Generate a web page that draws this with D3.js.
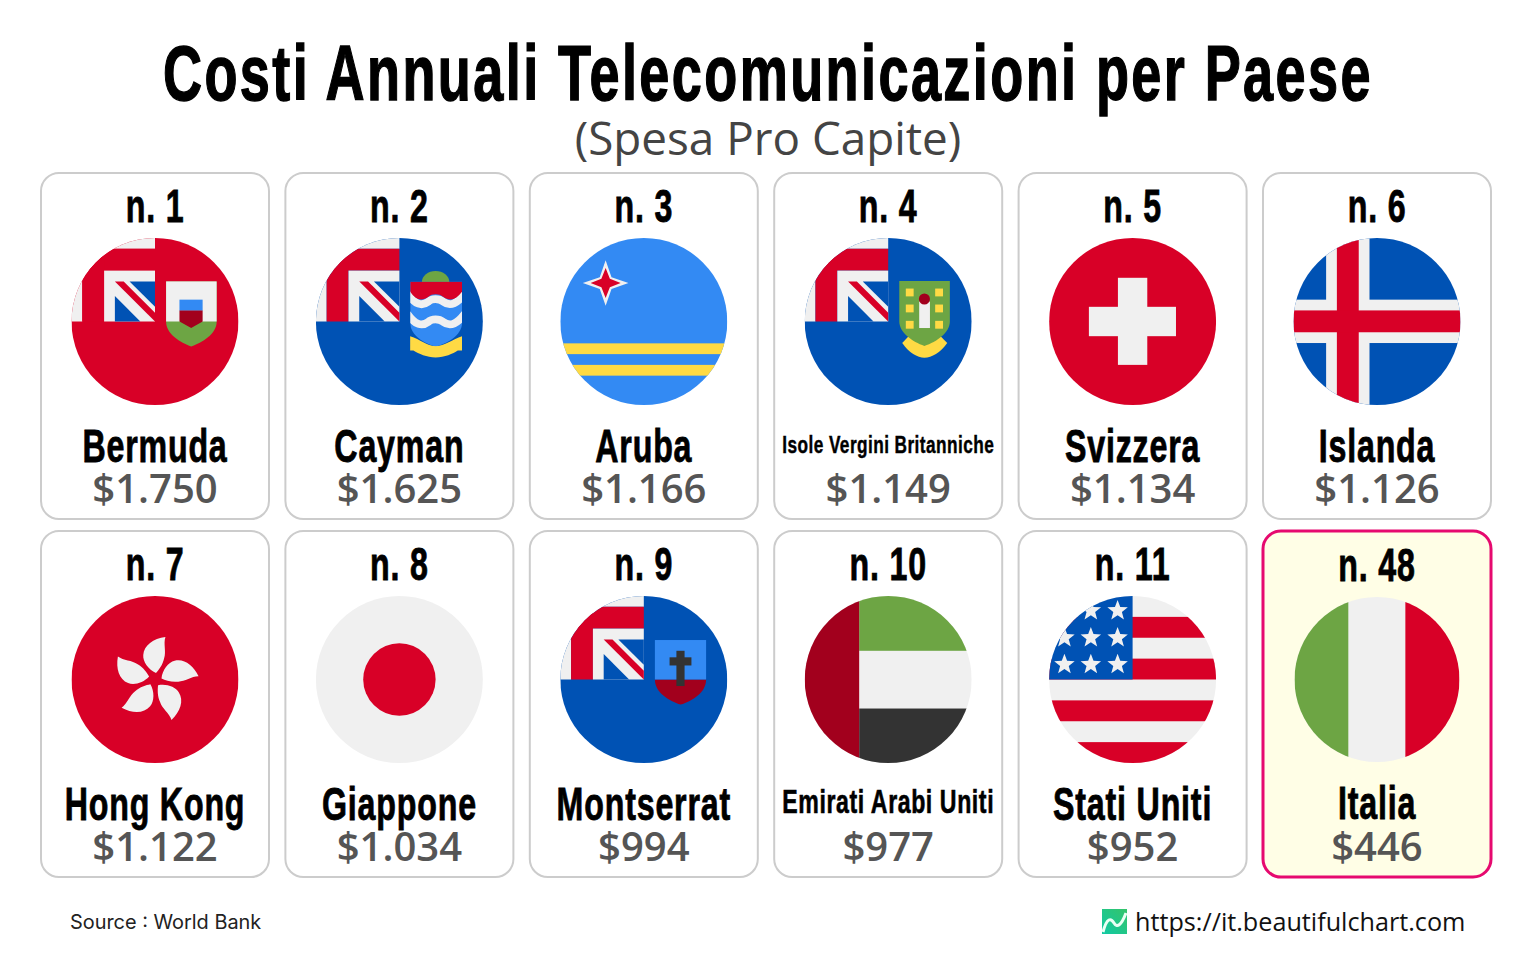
<!DOCTYPE html>
<html>
<head>
<meta charset="utf-8">
<title>Costi Annuali Telecomunicazioni per Paese</title>
<script src="https://cdn.jsdelivr.net/npm/d3@7"></script>
<style>
  body { margin: 0; background: #fff; }
  svg { display: block; }
</style>
</head>
<body>
<div id="chart"></div>
<script>
var ranks = [1, 2, 3, 4, 5, 6, 7, 8, 9, 10, 11, 48];
var countries = ['Bermuda', 'Cayman', 'Aruba', 'Isole Vergini Britanniche', 'Svizzera', 'Islanda',
  'Hong Kong', 'Giappone', 'Montserrat', 'Emirati Arabi Uniti', 'Stati Uniti', 'Italia'];
var costs = [1750, 1625, 1166, 1149, 1134, 1126, 1122, 1034, 994, 977, 952, 446];

var WIDTH = 1536;
var HEIGHT = 960;
var COLS = 6;
var NARROW = '"Liberation Sans", sans-serif';
var SQUEEZE = 0.7; // the original face is much narrower than anything installed

var RED = '#d80027', BLUE = '#0052b4', SKY = '#338af3', WHITE = '#f0f0f0',
    GREEN = '#6da544', DARK = '#a2001d', YELLOW = '#ffda44', COAL = '#333333';

var money = d3.formatLocale({ decimal: ',', thousands: '.', grouping: [3], currency: ['$', ''] }).format('$,');

var x = d3.scaleBand().domain(d3.range(COLS)).range([41, 1491]).paddingInner(0.0671);
var y = d3.scaleBand().domain(d3.range(2)).range([173, 877]).paddingInner(0.0335);
var icon = d3.scaleLinear().domain([0, 512]).range([0, 167]);

var svg = d3.select('#chart').append('svg')
  .attr('width', WIDTH)
  .attr('height', HEIGHT);

var defs = svg.append('defs');
defs.append('clipPath').attr('id', 'disc')
  .append('circle').attr('cx', 256).attr('cy', 256).attr('r', 256);
defs.append('clipPath').attr('id', 'cayman-shield')
  .append('path').attr('d', 'M289,133H448V260C448,300 400,325 367,333C335,325 289,300 289,260Z');
var grad = defs.append('linearGradient').attr('id', 'logo')
  .attr('x1', 1).attr('y1', 0).attr('x2', 0).attr('y2', 1);
grad.append('stop').attr('offset', 0).attr('stop-color', '#35c46a');
grad.append('stop').attr('offset', 1).attr('stop-color', '#10c9a4');

// condensed bold label: squeezed sideways, and shrunk when it would not fit the card
function label(g, text, px, py, size, maxWidth) {
  var t = g.append('text')
    .attr('text-anchor', 'middle')
    .attr('font-family', NARROW)
    .attr('font-weight', 700)
    .attr('font-size', size)
    .attr('letter-spacing', size / 40)
    .attr('fill', '#000')
    .attr('stroke', '#000')
    .attr('vector-effect', 'non-scaling-stroke')
    .attr('stroke-width', size / 64)
    .text(text);
  var len = t.node().getComputedTextLength() * SQUEEZE;
  if (maxWidth && len > maxWidth) {
    var k = maxWidth / len;
    t.attr('font-size', size * k)
      .attr('letter-spacing', size * k / 40)
      .attr('stroke-width', size * k / 64);
  }
  t.attr('transform', 'translate(' + px + ',' + py + ') scale(' + SQUEEZE + ',1)');
  return t;
}

function rect(g, a, b, w, h, fill) {
  return g.append('rect').attr('x', a).attr('y', b).attr('width', w).attr('height', h).attr('fill', fill);
}
function path(g, d, fill) {
  return g.append('path').attr('d', d).attr('fill', fill);
}
function ground(g, fill) { rect(g, 0, 0, 512, 512, fill); }

// union flag in the top left quarter
function canton(g) {
  rect(g, 0, 0, 256, 33, WHITE);
  rect(g, 0, 0, 33, 256, WHITE);
  rect(g, 33, 33, 223, 67, RED);
  rect(g, 33, 33, 67, 223, RED);
  rect(g, 100, 100, 156, 156, WHITE);
  path(g, 'M178,133H256V211Z', BLUE);
  path(g, 'M133,178V256H211Z', BLUE);
  path(g, 'M133,133H160L256,229V256Z', RED);
}

function star(g, cx, cy, r) {
  var pts = d3.range(10).map(function(i) {
    var a = i * Math.PI / 5 - Math.PI / 2, k = i % 2 ? r * 0.42 : r;
    return [cx + k * Math.cos(a), cy + k * Math.sin(a)];
  });
  path(g, d3.line()(pts) + 'Z', WHITE);
}

var flags = {
  'Bermuda': function(g) {
    ground(g, RED);
    canton(g);
    path(g, 'M290,133H445V256C445,296 400,320 367,333C334,320 290,296 290,256Z', GREEN);
    rect(g, 290, 133, 155, 123, WHITE);
    rect(g, 331, 189, 71, 34, SKY);
    path(g, 'M331,222H402V256L367,276L331,256Z', DARK);
  },
  'Cayman': function(g) {
    ground(g, BLUE);
    canton(g);
    g.append('ellipse').attr('cx', 367).attr('cy', 135).attr('rx', 42).attr('ry', 34).attr('fill', GREEN);
    path(g, 'M289,301C320,310 340,331 367,331C394,331 420,310 448,301V345H435C420,355 395,366 367,366C340,366 315,355 299,345H289Z', YELLOW);
    var shield = g.append('g').attr('clip-path', 'url(#cayman-shield)');
    rect(shield, 289, 133, 159, 200, SKY);
    [0, 62].forEach(function(dy) {
      shield.append('path')
        .attr('d', 'M280,170C305,205 325,210 345,195C355,185 378,185 390,195C410,210 430,205 457,170')
        .attr('transform', 'translate(0,' + dy + ')')
        .attr('fill', 'none').attr('stroke', WHITE).attr('stroke-width', 24);
    });
    path(shield, 'M289,133H448V165C430,190 410,195 390,180C378,170 355,170 345,180C325,195 305,190 289,165Z', RED);
  },
  'Aruba': function(g) {
    ground(g, SKY);
    rect(g, 0, 323, 512, 33, YELLOW);
    rect(g, 0, 389, 512, 33, YELLOW);
    path(g, 'M139,68L157,120L209,138L157,156L139,208L121,156L69,138L121,120Z', WHITE);
    path(g, 'M139,92L152,125L185,138L152,151L139,184L126,151L93,138L126,125Z', RED);
  },
  'Isole Vergini Britanniche': function(g) {
    ground(g, BLUE);
    canton(g);
    path(g, 'M320,300H415L437,322C415,352 390,367 367,367C345,367 320,352 299,322Z', YELLOW);
    path(g, 'M290,132H445V256C445,290 405,318 367,331C330,318 290,290 290,256Z', GREEN);
    [322, 412].forEach(function(cx) {
      [167, 216, 266].forEach(function(cy) { rect(g, cx - 12, cy - 12, 24, 24, YELLOW); });
    });
    rect(g, 351, 195, 33, 81, WHITE);
    g.append('circle').attr('cx', 367).attr('cy', 187).attr('r', 17).attr('fill', DARK);
  },
  'Svizzera': function(g) {
    ground(g, RED);
    rect(g, 211, 122, 90, 267, WHITE);
    rect(g, 122, 211, 267, 90, WHITE);
  },
  'Islanda': function(g) {
    ground(g, BLUE);
    rect(g, 100, 0, 133, 512, WHITE);
    rect(g, 0, 189, 512, 133, WHITE);
    rect(g, 133, 0, 67, 512, RED);
    rect(g, 0, 222, 512, 67, RED);
  },
  'Hong Kong': function(g) {
    ground(g, RED);
    d3.range(5).forEach(function(i) {
      path(g, 'M3,-20C-20,-30 -38,-55 -36,-75C-34,-105 -5,-125 32,-130C25,-110 35,-85 28,-65C24,-45 12,-30 3,-20Z', WHITE)
        .attr('transform', 'translate(256,256) rotate(' + i * 72 + ')');
    });
  },
  'Giappone': function(g) {
    ground(g, WHITE);
    g.append('circle').attr('cx', 256).attr('cy', 256).attr('r', 111).attr('fill', RED);
  },
  'Montserrat': function(g) {
    ground(g, BLUE);
    canton(g);
    path(g, 'M290,256H447C447,296 405,322 369,333C333,322 290,296 290,256Z', DARK);
    rect(g, 290, 135, 157, 121, SKY);
    rect(g, 356, 168, 25, 108, COAL);
    rect(g, 335, 188, 67, 25, COAL);
  },
  'Emirati Arabi Uniti': function(g) {
    ground(g, WHITE);
    rect(g, 167, 0, 345, 168, GREEN);
    rect(g, 167, 345, 345, 167, COAL);
    rect(g, 0, 0, 167, 512, DARK);
  },
  'Stati Uniti': function(g) {
    ground(g, WHITE);
    [64, 192, 320, 448].forEach(function(b) { rect(g, 0, b, 512, 64, RED); });
    rect(g, 0, 0, 256, 256, BLUE);
    [[210, 45], [128, 45], [210, 128], [128, 128], [47, 128], [210, 210], [128, 210], [47, 210]]
      .forEach(function(p) { star(g, p[0], p[1], 33); });
  },
  'Italia': function(g) {
    ground(g, WHITE);
    rect(g, 0, 0, 167, 512, GREEN);
    rect(g, 344, 0, 168, 512, RED);
  }
};

// title block
var title = label(svg, 'Costi Annuali Telecomunicazioni per Paese', 0, 0, 78);
title.attr('letter-spacing', 3.5)
  .attr('transform', 'translate(' + WIDTH / 2 + ',100) scale(' + 1210 / title.node().getComputedTextLength() + ',1)');

svg.append('text')
  .attr('x', WIDTH / 2).attr('y', 155)
  .attr('text-anchor', 'middle')
  .attr('font-family', '"Open Sans", sans-serif')
  .attr('font-size', 45.8)
  .attr('fill', '#444')
  .text('(Spesa Pro Capite)');

// cards
var cards = svg.selectAll('g.card')
  .data(countries)
  .join('g')
    .attr('class', 'card')
    .attr('transform', function(d, i) {
      return 'translate(' + x(i % COLS) + ',' + y(Math.floor(i / COLS)) + ')';
    });

cards.append('rect')
  .attr('width', x.bandwidth())
  .attr('height', y.bandwidth())
  .attr('rx', 18)
  .attr('fill', function(d) { return d === 'Italia' ? '#fffee6' : '#fff'; })
  .attr('stroke', function(d) { return d === 'Italia' ? '#e6096f' : '#cccccc'; })
  .attr('stroke-width', function(d) { return d === 'Italia' ? 3 : 2; });

cards.each(function(d, i) {
  var g = d3.select(this);
  var cx = x.bandwidth() / 2;
  var italy = d === 'Italia';
  label(g, 'n. ' + ranks[i], cx, italy ? 50 : 49, 46);

  // the Italian flag sits a little smaller in the original
  var k = icon(1) * (italy ? 165 / 167 : 1);
  g.append('g')
    .attr('clip-path', 'url(#disc)')
    .attr('transform', 'translate(' + (cx - 256 * k) + ',' + (italy ? 66 : 65) + ') scale(' + k + ')')
    .call(flags[d]);

  var small = d.length > 18;
  label(g, d, cx, small ? (i < COLS ? 280 : 282) : (italy ? 288 : 289), 46, 212);

  g.append('text')
    .attr('x', cx).attr('y', 330)
    .attr('text-anchor', 'middle')
    .attr('font-family', '"Open Sans", sans-serif')
    .attr('font-weight', 600)
    .attr('font-size', 40)
    .attr('fill', '#555')
    .text(money(costs[i]));
});

// footer
svg.append('text')
  .attr('x', 70).attr('y', 929)
  .attr('font-family', 'Inter, sans-serif')
  .attr('font-size', 19.9)
  .attr('fill', '#222')
  .text('Source : World Bank');

var logo = svg.append('g').attr('transform', 'translate(1102,909)');
rect(logo, 0, 0, 25, 25, 'url(#logo)');
logo.append('path')
  .attr('d', 'M1,23C5,8 9,9 12,14C15,19 19,17 24,4')
  .attr('fill', 'none').attr('stroke', '#eafff4').attr('stroke-width', 3);

svg.append('text')
  .attr('x', 1135).attr('y', 931)
  .attr('font-family', '"Open Sans", sans-serif')
  .attr('font-size', 25.2)
  .attr('fill', '#111')
  .text('https://it.beautifulchart.com');
</script>
</body>
</html>
